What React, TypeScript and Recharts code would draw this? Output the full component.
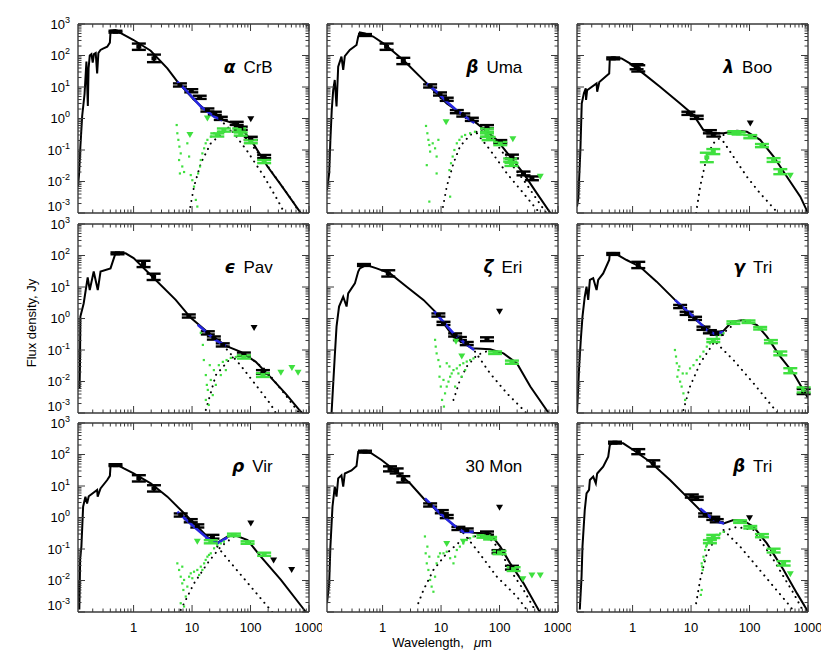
import React from "react";
import { ComposedChart, Line, Scatter, XAxis, YAxis, ErrorBar } from "recharts";

// ── Look ──────────────────────────────────────────────────────────────────────

const FONT = "Liberation Sans, Arial, sans-serif";
const FRAME = "#3a3a3a";
const GREEN = "#3fe03f";
const BLUE = "#2626e0";

const PW = 231;
const PH = 189;
const COL_X = [77.7, 327.3, 577.3];
const ROW_Y = [24, 224, 423];
const ML = 80;
const MR = 12;
const MT = 12;
const MB = 50;
const AX = 1; // axes need a non-zero band to render

// ── Axes ──────────────────────────────────────────────────────────────────────

const X_DOMAIN = [0.112, 1000];
const Y_DOMAIN = [0.001, 1000];
const X_DECADES = [0.1, 1, 10, 100];
const Y_DECADES = [0.001, 0.01, 0.1, 1, 10, 100];
const MANTISSA = [1, 2, 3, 4, 5, 6, 7, 8, 9];
const X_TICKS = [...X_DECADES.flatMap((d) => MANTISSA.map((m) => m * d)).filter((v) => v > 0.15), 1000];
const Y_TICKS = [...Y_DECADES.flatMap((d) => MANTISSA.map((m) => m * d)), 1000];
const X_LABELS: Record<string, string> = { "1": "1", "10": "10", "100": "100", "1000": "1000" };

// ── α CrB ─────────────────────────────────────────────────────────────────────

const ACRB_MODEL = [[0.112, 0.007], [0.117, 0.018], [0.123, 0.13], [0.132, 1.2], [0.145, 6], [0.156, 64], [0.16, 15], [0.165, 2.5], [0.17, 40], [0.178, 100], [0.19, 110], [0.2, 60], [0.21, 110], [0.225, 120], [0.238, 27], [0.25, 120], [0.272, 150], [0.3, 165], [0.354, 190], [0.393, 257], [0.404, 614], [0.49, 640], [0.615, 505], [1, 310], [1.96, 142], [3.78, 39], [5.6, 14.8], [10.8, 3.9], [18.3, 1.65], [31, 0.94], [52, 0.7], [78, 0.38], [115, 0.145], [195, 0.03], [331, 0.0078], [724, 0.001], [1000, 0.0005]];
const ACRB_IRS = [[5.6, 14.8], [8.3, 7.1], [14.1, 2.4], [23.8, 1.15], [33, 0.88]];
const ACRB_PHOT = [[0.49, 570, 0.03], [1.23, 190, 0.1], [2.23, 81, 0.12], [6.2, 11.6, 0.05], [9.7, 7.6, 0.05], [13.5, 4.7, 0.05], [18.3, 1.86, 0.05], [24.5, 1.46, 0.05], [31, 1.01, 0.05], [58, 0.7, 0.05], [68, 0.49, 0.05], [101, 0.234, 0.05], [171, 0.062, 0.05]];
const ACRB_UL = [[101, 0.94]];
const ACRB_XS = [[27, 0.3, 0.05], [35, 0.43, 0.05], [64, 0.43, 0.05], [68, 0.32, 0.05], [101, 0.184, 0.05], [171, 0.043, 0.05]];
const ACRB_XUL = [[9.2, 0.3], [18.3, 1.0]];
const ACRB_XSPEC = [[5.46, 0.62], [5.6, 0.34], [5.83, 0.21], [6.07, 0.128], [6.4, 0.078], [6.0, 0.048], [6.8, 0.03], [6.2, 0.018], [7.3, 0.02], [8.3, 0.163], [8.9, 0.062], [9.5, 0.016], [10.1, 0.011], [10.8, 0.0069], [11.6, 0.0026], [12.3, 0.0016], [12.7, 0.018], [13.7, 0.03], [14.1, 0.048], [15.0, 0.078], [16.1, 0.113], [17.1, 0.163], [18.3, 0.21], [20.9, 0.265], [23.8, 0.34], [29, 0.38], [35, 0.45]];
const ACRB_STAR = [[35, 0.7], [52, 0.34], [89, 0.089], [171, 0.0142], [290, 0.0026], [380, 0.001], [500, 0.0005]];
const ACRB_DISK = [[8.9, 0.001], [10.8, 0.0069], [14.1, 0.038], [20.9, 0.163], [35, 0.38], [52, 0.43], [89, 0.21], [151, 0.062], [290, 0.0112], [560, 0.002], [680, 0.001], [1000, 0.0004]];

// ── β Uma ─────────────────────────────────────────────────────────────────────

const BUMA_MODEL = [[0.112, 0.0054], [0.122, 0.018], [0.128, 0.21], [0.135, 1.86], [0.143, 8], [0.152, 16.7], [0.163, 2.4], [0.174, 44], [0.198, 92], [0.212, 35], [0.226, 96], [0.275, 150], [0.358, 215], [0.383, 400], [0.408, 544], [0.5, 505], [0.69, 400], [1.03, 243], [2.26, 72], [5.7, 13], [12.5, 3.0], [24, 1.29], [41, 0.7], [90, 0.21], [152, 0.062], [257, 0.018], [436, 0.0042], [741, 0.001], [1000, 0.0005]];
const BUMA_IRS = [[5.7, 13], [8.4, 7.1], [12.5, 3.4], [18, 1.9], [25, 1.2], [37, 0.72]];
const BUMA_PHOT = [[0.5, 447, 0.03], [1.17, 190, 0.1], [2.26, 67, 0.1], [6.5, 10.8, 0.05], [9.6, 6.0, 0.05], [12.5, 4.07, 0.05], [18.6, 1.65, 0.05], [24, 1.29, 0.05], [33.6, 0.94, 0.05], [61, 0.55, 0.05], [103, 0.184, 0.05], [163, 0.062, 0.06], [257, 0.018, 0.06], [358, 0.0126, 0.06]];
const BUMA_UL: number[][] = [];
const BUMA_XS = [[61, 0.43, 0.05], [61, 0.3, 0.05], [65, 0.23, 0.05], [103, 0.16, 0.05], [152, 0.048, 0.05], [160, 0.035, 0.05]];
const BUMA_XUL = [[12.2, 0.76], [169, 0.22], [498, 0.0142]];
const BUMA_XSPEC = [[5.53, 0.58], [5.83, 0.34], [6.07, 0.21], [6.3, 0.144], [6.5, 0.089], [7.2, 0.163], [7.9, 0.113], [8.4, 0.062], [9.0, 0.21], [5.7, 0.033], [8.4, 0.018], [6.3, 0.0023], [13.9, 0.023], [14.8, 0.038], [15.8, 0.062], [16.9, 0.1], [18.6, 0.163], [20.6, 0.21], [22.6, 0.265], [25.8, 0.3], [31.4, 0.34], [38, 0.38], [14.3, 0.0033]];
const BUMA_STAR = [[41, 0.34], [69, 0.1], [134, 0.018], [257, 0.0042], [466, 0.0011], [700, 0.0005]];
const BUMA_DISK = [[10.3, 0.001], [12.5, 0.0069], [16.3, 0.038], [21, 0.128], [31.4, 0.3], [47, 0.43], [79, 0.21], [134, 0.054], [257, 0.0112], [607, 0.0011], [1000, 0.0003]];

// ── λ Boo ─────────────────────────────────────────────────────────────────────

const LBOO_MODEL = [[0.112, 0.0016], [0.118, 0.003], [0.128, 0.1], [0.135, 3.0], [0.147, 6.3], [0.158, 9.1], [0.16, 3.9], [0.167, 7.9], [0.242, 13], [0.248, 7.1], [0.27, 14.5], [0.398, 27], [0.408, 81], [0.466, 87], [0.648, 81], [0.9, 56], [1.52, 27], [2.94, 10.2], [6.5, 3.0], [11, 1.29], [16.3, 0.43], [24, 0.34], [36, 0.34], [61, 0.41], [90, 0.38], [152, 0.21], [258, 0.062], [436, 0.0142], [739, 0.0033], [1000, 0.001]];
const LBOO_IRS: number[][] = [];
const LBOO_PHOT = [[0.466, 81, 0.03], [1.17, 44, 0.08], [1.25, 39, 0.1], [9.0, 1.46, 0.05], [12.5, 1.09, 0.05], [21, 0.38, 0.05], [24, 0.3, 0.05]];
const LBOO_UL = [[103, 0.7]];
const LBOO_XS = [[18.6, 0.058, 0.15], [24, 0.089, 0.08], [55, 0.36, 0.04], [65, 0.34, 0.04], [103, 0.265, 0.05], [163, 0.138, 0.05], [258, 0.048, 0.06], [336, 0.0205, 0.08]];
const LBOO_XUL = [[498, 0.0153]];
const LBOO_XSPEC: number[][] = [];
const LBOO_STAR = [[31.4, 0.265], [53, 0.062], [90, 0.0142], [152, 0.0042], [275, 0.00124], [400, 0.0005]];
const LBOO_DISK = [[12.2, 0.001], [14.3, 0.0069], [18.6, 0.062], [24, 0.163], [36, 0.3], [50, 0.36]];

// ── ε Pav ─────────────────────────────────────────────────────────────────────

const EPAV_MODEL = [[0.119, 0.006], [0.121, 0.03], [0.123, 1.15], [0.14, 3.0], [0.164, 20], [0.178, 8], [0.208, 31], [0.244, 8], [0.272, 31], [0.403, 39], [0.49, 117], [0.73, 117], [1, 83], [1.96, 24], [5.25, 3.9], [9.5, 1.05], [21, 0.3], [38, 0.135], [68, 0.087], [123, 0.042], [225, 0.013], [405, 0.004], [680, 0.00125], [1000, 0.0006]];
const EPAV_IRS = [[12.5, 0.63], [25, 0.21], [38, 0.135]];
const EPAV_PHOT = [[0.53, 117, 0.03], [1.48, 54, 0.1], [2.2, 21, 0.1], [8.8, 1.2, 0.05], [18.6, 0.35, 0.05], [23.6, 0.24, 0.05], [33.5, 0.145, 0.05], [77, 0.074, 0.05], [163, 0.02, 0.06]];
const EPAV_UL = [[115, 0.5]];
const EPAV_XS = [[77, 0.06, 0.05], [163, 0.016, 0.06]];
const EPAV_XUL = [[330, 0.019], [510, 0.027], [650, 0.019]];
const EPAV_XSPEC = [[14.1, 0.35], [15.3, 0.145], [15.9, 0.048], [17.2, 0.016], [18.6, 0.0054], [17.2, 0.0026], [19.3, 0.0018], [20.9, 0.0112], [23.6, 0.023], [28.7, 0.033], [33.6, 0.042], [39, 0.048], [46, 0.056], [56, 0.06], [22.6, 0.0037], [25.5, 0.0078], [31, 0.016], [17.9, 0.0078], [20.1, 0.033], [37.8, 0.023]];
const EPAV_STAR = [[33.6, 0.145], [68, 0.032], [123, 0.0078], [225, 0.0018], [270, 0.001], [400, 0.0004]];
const EPAV_DISK = [[17.2, 0.00125], [25.5, 0.016], [46, 0.056], [83, 0.074], [183, 0.023], [405, 0.0035], [680, 0.001], [1000, 0.0004]];

// ── ζ Eri ─────────────────────────────────────────────────────────────────────

const ZERI_MODEL = [[0.134, 0.001], [0.152, 0.062], [0.163, 0.55], [0.18, 2.4], [0.212, 4.9], [0.242, 2.4], [0.258, 6.3], [0.336, 13], [0.383, 31], [0.408, 39], [0.532, 50], [0.79, 39], [1.34, 27], [2.58, 10.2], [5.0, 3.9], [7.9, 1.65], [16.3, 0.265], [33.6, 0.113], [69, 0.105], [117, 0.078], [198, 0.038], [336, 0.0069], [692, 0.001], [1000, 0.0004]];
const ZERI_IRS = [[7.6, 1.7], [11, 0.78], [16.3, 0.34], [25, 0.17], [36.8, 0.1]];
const ZERI_PHOT = [[0.48, 50, 0.03], [1.25, 27, 0.1], [9, 1.29, 0.05], [11, 0.7, 0.05], [17.4, 0.3, 0.05], [21, 0.23, 0.05], [27.5, 0.16, 0.05], [61, 0.22, 0.06]];
const ZERI_UL = [[100, 1.65]];
const ZERI_XS = [[84, 0.082, 0.04], [163, 0.041, 0.05]];
const ZERI_XUL = [[22.6, 0.062], [18, 0.184]];
const ZERI_XSPEC = [[7.9, 0.21], [8.1, 0.128], [8.4, 0.078], [9.0, 0.048], [9.6, 0.03], [9.4, 0.0142], [9.9, 0.0069], [10.4, 0.0026], [11.2, 0.0016], [11.7, 0.0042], [12.5, 0.0069], [13.4, 0.0099], [14.3, 0.0142], [15.2, 0.018], [16.3, 0.023], [18.6, 0.026], [21, 0.033], [24, 0.038], [27.5, 0.043], [31.4, 0.048], [35.8, 0.054], [12.5, 0.038], [13.9, 0.03], [11, 0.0112], [17.4, 0.0069], [19.8, 0.018], [22.6, 0.0142], [25.8, 0.023]];
const ZERI_STAR = [[38, 0.089], [69, 0.018], [134, 0.0042], [258, 0.00124], [400, 0.0005]];
const ZERI_DISK = [[16.3, 0.0026], [21, 0.011], [27.5, 0.03], [41, 0.069], [60, 0.09]];

// ── γ Tri ─────────────────────────────────────────────────────────────────────

const GTRI_MODEL = [[0.112, 0.001], [0.122, 0.03], [0.13, 0.21], [0.139, 1.15], [0.152, 4.9], [0.163, 10.2], [0.174, 3.9], [0.186, 16.7], [0.212, 19], [0.242, 8], [0.258, 16.7], [0.314, 27], [0.398, 72], [0.408, 117], [0.5, 117], [0.79, 72], [1.34, 44], [2.58, 14.8], [5.3, 3.9], [11, 1.01], [18.6, 0.49], [25.8, 0.34], [36, 0.41], [50, 0.79], [79, 0.9], [134, 0.62], [198, 0.265], [336, 0.062], [568, 0.018], [1000, 0.003]];
const GTRI_IRS = [[5.3, 3.9], [11, 1.15], [18.6, 0.43], [25.8, 0.32], [36, 0.38]];
const GTRI_PHOT = [[0.466, 112, 0.03], [1.25, 50, 0.1], [6.5, 2.4, 0.05], [8.4, 1.46, 0.05], [11.7, 1.01, 0.05], [16.3, 0.49, 0.05], [21, 0.38, 0.05], [27.5, 0.34, 0.05], [843, 0.0048, 0.08]];
const GTRI_UL: number[][] = [];
const GTRI_XS = [[24, 0.2, 0.05], [53, 0.74, 0.04], [96, 0.79, 0.04], [152, 0.49, 0.04], [232, 0.184, 0.05], [336, 0.078, 0.06], [498, 0.022, 0.08], [843, 0.0054, 0.08]];
const GTRI_XUL = [[843, 0.0054]];
const GTRI_XSPEC = [[5.3, 0.1], [5.53, 0.062], [5.7, 0.038], [6.07, 0.023], [5.83, 0.0142], [6.5, 0.0099], [6.9, 0.0069], [7.4, 0.0042], [7.9, 0.0026], [6.3, 0.03], [7.2, 0.018], [8.4, 0.018], [9.6, 0.026], [11, 0.033], [12.5, 0.048], [14.3, 0.062], [16.3, 0.089], [18.6, 0.128], [21, 0.163], [24, 0.21], [27.5, 0.265], [31.4, 0.3], [36, 0.34]];
const GTRI_STAR = [[27.5, 0.163], [53, 0.048], [117, 0.0088], [275, 0.00124], [400, 0.0005]];
const GTRI_DISK = [[7.4, 0.00124], [9.6, 0.0069], [14.3, 0.038], [24, 0.163], [41, 0.43], [61, 0.79]];

// ── ρ Vir ─────────────────────────────────────────────────────────────────────

const RVIR_MODEL = [[0.116, 0.01], [0.118, 0.0012], [0.122, 0.05], [0.128, 0.119], [0.137, 2.2], [0.15, 4.6], [0.16, 2.8], [0.171, 4.7], [0.238, 7.5], [0.243, 4.6], [0.272, 8.4], [0.354, 15.5], [0.393, 21], [0.404, 46], [0.49, 50], [0.68, 36], [1, 25], [1.96, 12.2], [3.78, 4.6], [8.3, 1.07], [18.3, 0.245], [27, 0.158], [40, 0.245], [52, 0.28], [89, 0.193], [150, 0.057], [331, 0.0104], [832, 0.00116], [1000, 0.0007]];
const RVIR_IRS = [[5.6, 1.53], [10.8, 0.51], [18.3, 0.22], [27, 0.151], [40, 0.23]];
const RVIR_PHOT = [[0.49, 46, 0.03], [1.23, 17.5, 0.1], [2.23, 8.4, 0.1], [6.4, 1.2, 0.05], [9.5, 0.79, 0.05], [12.3, 0.54, 0.05], [22.3, 0.245, 0.06]];
const RVIR_UL = [[101, 0.65], [248, 0.043], [505, 0.0216]];
const RVIR_XS = [[20.9, 0.17, 0.05], [52, 0.28, 0.04], [89, 0.16, 0.04], [171, 0.068, 0.05]];
const RVIR_XUL = [[12.3, 0.171]];
const RVIR_XSPEC = [[5.6, 0.035], [6.0, 0.0216], [6.4, 0.0132], [6.8, 0.0081], [7.3, 0.0104], [7.1, 0.005], [7.8, 0.0031], [6.4, 0.0019], [8.3, 0.0064], [8.9, 0.0132], [9.5, 0.0169], [10.1, 0.0118], [10.8, 0.019], [12.3, 0.0216], [14.1, 0.0275], [16.1, 0.035], [18.3, 0.057], [20.9, 0.073], [23.8, 0.105], [27, 0.134], [31, 0.15], [35, 0.171], [13.2, 0.015], [15, 0.0216], [17.1, 0.045], [19.5, 0.065], [7.3, 0.0015], [6.8, 0.0275]];
const RVIR_STAR = [[27, 0.119], [52, 0.0275], [101, 0.0064], [195, 0.0015], [260, 0.0008]];
const RVIR_DISK = [[6.4, 0.00116], [10.8, 0.0081], [18.3, 0.035], [31, 0.119], [52, 0.25]];

// ── 30 Mon ────────────────────────────────────────────────────────────────────

const MON_MODEL = [[0.112, 0.0019], [0.122, 0.0081], [0.128, 0.119], [0.139, 2.2], [0.152, 9.5], [0.163, 4.6], [0.174, 17.5], [0.198, 22], [0.212, 9.5], [0.226, 25], [0.294, 31], [0.358, 43], [0.383, 123], [0.436, 132], [0.648, 109], [0.96, 67], [1.74, 28.5], [2.94, 12.2], [5.3, 3.6], [9.6, 1.36], [16.3, 0.58], [24, 0.38], [36, 0.33], [69, 0.31], [103, 0.119], [152, 0.035], [258, 0.0081], [466, 0.00116], [700, 0.0004]];
const MON_IRS = [[5.3, 4.07], [9.6, 1.36], [16.3, 0.58], [24, 0.35], [36, 0.35]];
const MON_PHOT = [[0.5, 123, 0.03], [1.34, 35, 0.08], [1.74, 30, 0.08], [2.26, 16.3, 0.1], [6.5, 2.5, 0.05], [10.3, 1.53, 0.05], [12.5, 1.07, 0.05], [19.8, 0.45, 0.05], [27.5, 0.4, 0.05], [61, 0.32, 0.05], [96, 0.082, 0.05], [163, 0.0255, 0.06]];
const MON_UL = [[100, 2.05]];
const MON_XS = [[53, 0.25, 0.04], [69, 0.22, 0.04], [100, 0.077, 0.05], [174, 0.023, 0.06]];
const MON_XUL = [[251, 0.0109], [358, 0.0143], [498, 0.0143], [12.5, 0.144], [24, 0.171]];
const MON_XSPEC = [[5.3, 0.25], [5.46, 0.073], [5.7, 0.035], [6.07, 0.0216], [6.5, 0.0104], [6.9, 0.0064], [7.4, 0.0044], [7.9, 0.0132], [5.83, 0.119], [6.3, 0.057], [8.4, 0.035], [9.0, 0.057], [9.6, 0.073], [11, 0.073], [12.5, 0.082], [14.3, 0.051], [16.3, 0.035], [17.4, 0.057], [18.6, 0.093], [21, 0.119], [24, 0.151], [27.5, 0.193], [31.4, 0.22], [36, 0.25]];
const MON_STAR = [[24, 0.32], [41, 0.093], [90, 0.0132], [198, 0.0031], [294, 0.00116], [400, 0.0005]];
const MON_DISK = [[4.08, 0.0019], [5.0, 0.005], [7.4, 0.0216], [12.5, 0.073], [21, 0.171], [36, 0.25], [60, 0.27], [100, 0.1], [152, 0.0216], [258, 0.005], [400, 0.0012]];

// ── β Tri ─────────────────────────────────────────────────────────────────────

const BTRI_MODEL = [[0.125, 0.0012], [0.134, 0.0132], [0.139, 0.119], [0.152, 1.73], [0.163, 5.8], [0.18, 7.5], [0.186, 15.5], [0.212, 19.8], [0.235, 12.2], [0.248, 25], [0.314, 41], [0.383, 85], [0.408, 200], [0.466, 238], [0.69, 226], [1.03, 139], [1.98, 59], [4.37, 15.5], [8.4, 4.6], [15.2, 1.53], [24, 0.83], [36, 0.65], [53, 0.83], [79, 0.79], [117, 0.51], [198, 0.151], [383, 0.0216], [648, 0.0039], [961, 0.00116], [1000, 0.001]];
const BTRI_IRS = [[14.3, 1.95], [21, 1.06], [27.5, 0.74], [36.8, 0.65]];
const BTRI_PHOT = [[0.5, 238, 0.03], [1.25, 123, 0.08], [2.26, 52, 0.1], [10.3, 4.8, 0.05], [12.5, 4.07, 0.05], [17.4, 1.2, 0.05], [24, 0.94, 0.05], [27.5, 0.79, 0.05]];
const BTRI_UL = [[100, 0.94]];
const BTRI_XS = [[21, 0.171, 0.05], [24, 0.25, 0.05], [69, 0.74, 0.04], [103, 0.49, 0.04], [163, 0.265, 0.05], [258, 0.089, 0.06], [383, 0.035, 0.07]];
const BTRI_XUL = [[498, 0.0158]];
const BTRI_XSPEC = [[15.2, 0.035], [16.3, 0.057], [17.4, 0.093], [18.6, 0.134], [19.8, 0.193], [21, 0.22], [24, 0.25], [27.5, 0.28], [31.4, 0.31], [36, 0.35], [15.8, 0.0216], [16.7, 0.045], [15.2, 0.005], [18.1, 0.119], [22.6, 0.171], [25.8, 0.22], [14.7, 0.0035], [15.4, 0.028]];
const BTRI_STAR = [[36, 0.4], [69, 0.119], [134, 0.0275], [258, 0.0064], [498, 0.0015], [700, 0.0006]];
const BTRI_DISK = [[12.2, 0.0019], [14.3, 0.0104], [18.6, 0.073], [27.5, 0.25], [41, 0.4], [60, 0.5], [117, 0.4], [258, 0.045], [568, 0.0039], [900, 0.0008]];

// ── Panels ────────────────────────────────────────────────────────────────────

const PANELS = [
  { greek: "α", name: "CrB", model: ACRB_MODEL, irs: ACRB_IRS, phot: ACRB_PHOT, ul: ACRB_UL, xs: ACRB_XS, xul: ACRB_XUL, xspec: ACRB_XSPEC, star: ACRB_STAR, disk: ACRB_DISK },
  { greek: "β", name: "Uma", model: BUMA_MODEL, irs: BUMA_IRS, phot: BUMA_PHOT, ul: BUMA_UL, xs: BUMA_XS, xul: BUMA_XUL, xspec: BUMA_XSPEC, star: BUMA_STAR, disk: BUMA_DISK },
  { greek: "λ", name: "Boo", model: LBOO_MODEL, irs: LBOO_IRS, phot: LBOO_PHOT, ul: LBOO_UL, xs: LBOO_XS, xul: LBOO_XUL, xspec: LBOO_XSPEC, star: LBOO_STAR, disk: LBOO_DISK },
  { greek: "ϵ", name: "Pav", model: EPAV_MODEL, irs: EPAV_IRS, phot: EPAV_PHOT, ul: EPAV_UL, xs: EPAV_XS, xul: EPAV_XUL, xspec: EPAV_XSPEC, star: EPAV_STAR, disk: EPAV_DISK },
  { greek: "ζ", name: "Eri", model: ZERI_MODEL, irs: ZERI_IRS, phot: ZERI_PHOT, ul: ZERI_UL, xs: ZERI_XS, xul: ZERI_XUL, xspec: ZERI_XSPEC, star: ZERI_STAR, disk: ZERI_DISK },
  { greek: "γ", name: "Tri", model: GTRI_MODEL, irs: GTRI_IRS, phot: GTRI_PHOT, ul: GTRI_UL, xs: GTRI_XS, xul: GTRI_XUL, xspec: GTRI_XSPEC, star: GTRI_STAR, disk: GTRI_DISK },
  { greek: "ρ", name: "Vir", model: RVIR_MODEL, irs: RVIR_IRS, phot: RVIR_PHOT, ul: RVIR_UL, xs: RVIR_XS, xul: RVIR_XUL, xspec: RVIR_XSPEC, star: RVIR_STAR, disk: RVIR_DISK },
  { greek: "", name: "30 Mon", model: MON_MODEL, irs: MON_IRS, phot: MON_PHOT, ul: MON_UL, xs: MON_XS, xul: MON_XUL, xspec: MON_XSPEC, star: MON_STAR, disk: MON_DISK },
  { greek: "β", name: "Tri", model: BTRI_MODEL, irs: BTRI_IRS, phot: BTRI_PHOT, ul: BTRI_UL, xs: BTRI_XS, xul: BTRI_XUL, xspec: BTRI_XSPEC, star: BTRI_STAR, disk: BTRI_DISK },
];

const pts = (a: number[][]) => a.map(([w, f]) => ({ w, f }));
// third column is the error in dex; turn it into a linear [low, high]
const errPts = (a: number[][]) =>
  a.map(([w, f, d]) => ({ w, f, e: [f - f / Math.pow(10, d), f * Math.pow(10, d) - f] }));

const isMajor = (v: number) => Math.abs(Math.log10(v) - Math.round(Math.log10(v))) < 1e-6;

// ── Ticks ─────────────────────────────────────────────────────────────────────

function XTick({ x, y, payload, side, label }: any) {
  const major = isMajor(payload.value);
  const len = major ? 7 : 3.5;
  const dir = side === "top" ? 1 : -1;
  const key = String(Math.round(payload.value));
  return (
    <g>
      <line x1={x} y1={y} x2={x} y2={y + dir * len} stroke={FRAME} strokeWidth={1} />
      {label && major && X_LABELS[key] && (
        <text x={x} y={y + 20} textAnchor="middle" fontSize={13} fontFamily={FONT} fill="#000">
          {X_LABELS[key]}
        </text>
      )}
    </g>
  );
}

function YTick({ x, y, payload, side, label }: any) {
  const major = isMajor(payload.value);
  const len = major ? 7 : 3.5;
  const dir = side === "left" ? 1 : -1;
  const exp = Math.round(Math.log10(payload.value));
  // the lowest label sits a little above its tick, as in the original
  const lift = exp === -3 ? -7 : 0;
  return (
    <g>
      <line x1={x} y1={y} x2={x + dir * len} y2={y} stroke={FRAME} strokeWidth={1} />
      {label && major && (
        <text x={x - 8} y={y + 4.5 + lift} textAnchor="end" fontSize={13} fontFamily={FONT} fill="#000">
          10<tspan dy={-6} fontSize={9}>{exp}</tspan>
        </text>
      )}
    </g>
  );
}

// ── Marks ─────────────────────────────────────────────────────────────────────

const downTri = (fill: string) => (p: any) =>
  <polygon points={`${p.cx - 3.5},${p.cy - 3} ${p.cx + 3.5},${p.cy - 3} ${p.cx},${p.cy + 3}`} fill={fill} />;
const dot = (p: any) => <rect x={p.cx - 1.1} y={p.cy - 1.1} width={2.2} height={2.2} fill={GREEN} />;
const block = (fill: string) => (p: any) => <rect x={p.cx - 2.5} y={p.cy - 2} width={5} height={4} fill={fill} />;

const axisLine = { stroke: FRAME, strokeWidth: 1.4 };

function SedPanel({ p, row, col }: any) {
  const showX = row === 2;
  const showY = col === 0;
  return (
    <div style={{ position: "absolute", left: COL_X[col] - ML - AX, top: ROW_Y[row] - MT - AX }}>
      <ComposedChart width={ML + PW + MR + 2 * AX} height={MT + PH + MB + 2 * AX}
        margin={{ top: MT, right: MR, bottom: MB, left: ML }}>
        <XAxis dataKey="w" type="number" scale="log" domain={X_DOMAIN} allowDataOverflow ticks={X_TICKS} interval={0}
          height={AX} tickSize={0} tickMargin={0} axisLine={axisLine} tickLine={false}
          tick={(t: any) => <XTick {...t} side="bottom" label={showX} />} />
        <XAxis xAxisId="top" orientation="top" dataKey="w" type="number" scale="log" domain={X_DOMAIN} allowDataOverflow
          ticks={X_TICKS} interval={0} height={AX} tickSize={0} tickMargin={0} axisLine={axisLine} tickLine={false}
          tick={(t: any) => <XTick {...t} side="top" label={false} />} />
        <YAxis dataKey="f" type="number" scale="log" domain={Y_DOMAIN} allowDataOverflow ticks={Y_TICKS} interval={0}
          width={AX} tickSize={0} tickMargin={0} axisLine={axisLine} tickLine={false}
          tick={(t: any) => <YTick {...t} side="left" label={showY} />} />
        <YAxis yAxisId="right" orientation="right" dataKey="f" type="number" scale="log" domain={Y_DOMAIN} allowDataOverflow
          ticks={Y_TICKS} interval={0} width={AX} tickSize={0} tickMargin={0} axisLine={axisLine} tickLine={false}
          tick={(t: any) => <YTick {...t} side="right" label={false} />} />

        <Line data={pts(p.star)} dataKey="f" type="linear" stroke="#000" strokeWidth={2} strokeDasharray="0.1 6"
          strokeLinecap="round" dot={false} isAnimationActive={false} />
        <Line data={pts(p.disk)} dataKey="f" type="linear" stroke="#000" strokeWidth={2} strokeDasharray="0.1 6"
          strokeLinecap="round" dot={false} isAnimationActive={false} />
        <Line data={pts(p.model)} dataKey="f" type="linear" stroke="#000" strokeWidth={2} dot={false} isAnimationActive={false} />

        <Scatter data={pts(p.xspec)} dataKey="f" shape={dot} isAnimationActive={false} />
        <Scatter data={errPts(p.phot)} dataKey="f" shape={block("#000")} isAnimationActive={false}>
          <ErrorBar dataKey="e" direction="y" width={7} stroke="#000" strokeWidth={2.4} />
        </Scatter>
        <Line data={pts(p.irs)} dataKey="f" type="linear" stroke={BLUE} strokeWidth={2.6} dot={false} isAnimationActive={false} />
        <Scatter data={errPts(p.xs)} dataKey="f" shape={block(GREEN)} isAnimationActive={false}>
          <ErrorBar dataKey="e" direction="y" width={7} stroke={GREEN} strokeWidth={2.4} />
        </Scatter>
        <Scatter data={pts(p.ul)} dataKey="f" shape={downTri("#000")} isAnimationActive={false} />
        <Scatter data={pts(p.xul)} dataKey="f" shape={downTri(GREEN)} isAnimationActive={false} />
      </ComposedChart>
    </div>
  );
}

export default function App() {
  return (
    <div style={{ position: "absolute", left: 0, top: 0, width: 830, height: 664, background: "#fff" }}>
      {PANELS.map((p, i) => (
        <SedPanel key={i} p={p} row={Math.floor(i / 3)} col={i % 3} />
      ))}
      <svg width={830} height={664} style={{ position: "absolute", left: 0, top: 0, pointerEvents: "none" }}>
        {PANELS.map((p, i) => {
          const x = COL_X[i % 3] + 195;
          const y = ROW_Y[Math.floor(i / 3)] + 49;
          return (
            <text key={i} x={x} y={y} textAnchor="end" fontSize={17} fontFamily={FONT} fill="#000">
              {p.greek && (
                <tspan fontWeight="bold" fontStyle="italic" fontFamily="DejaVu Sans, sans-serif">{p.greek}</tspan>
              )}
              <tspan dx={p.greek ? 8 : 0}>{p.name}</tspan>
            </text>
          );
        })}
        <text x={442} y={647} textAnchor="middle" fontSize={13} fontFamily={FONT} fill="#000">
          Wavelength,<tspan dx={10} fontStyle="italic">μ</tspan>m
        </text>
        <text x={36} y={323} textAnchor="middle" fontSize={13} fontFamily={FONT} fill="#000" transform="rotate(-90 36 323)">
          Flux density, Jy
        </text>
      </svg>
    </div>
  );
}
